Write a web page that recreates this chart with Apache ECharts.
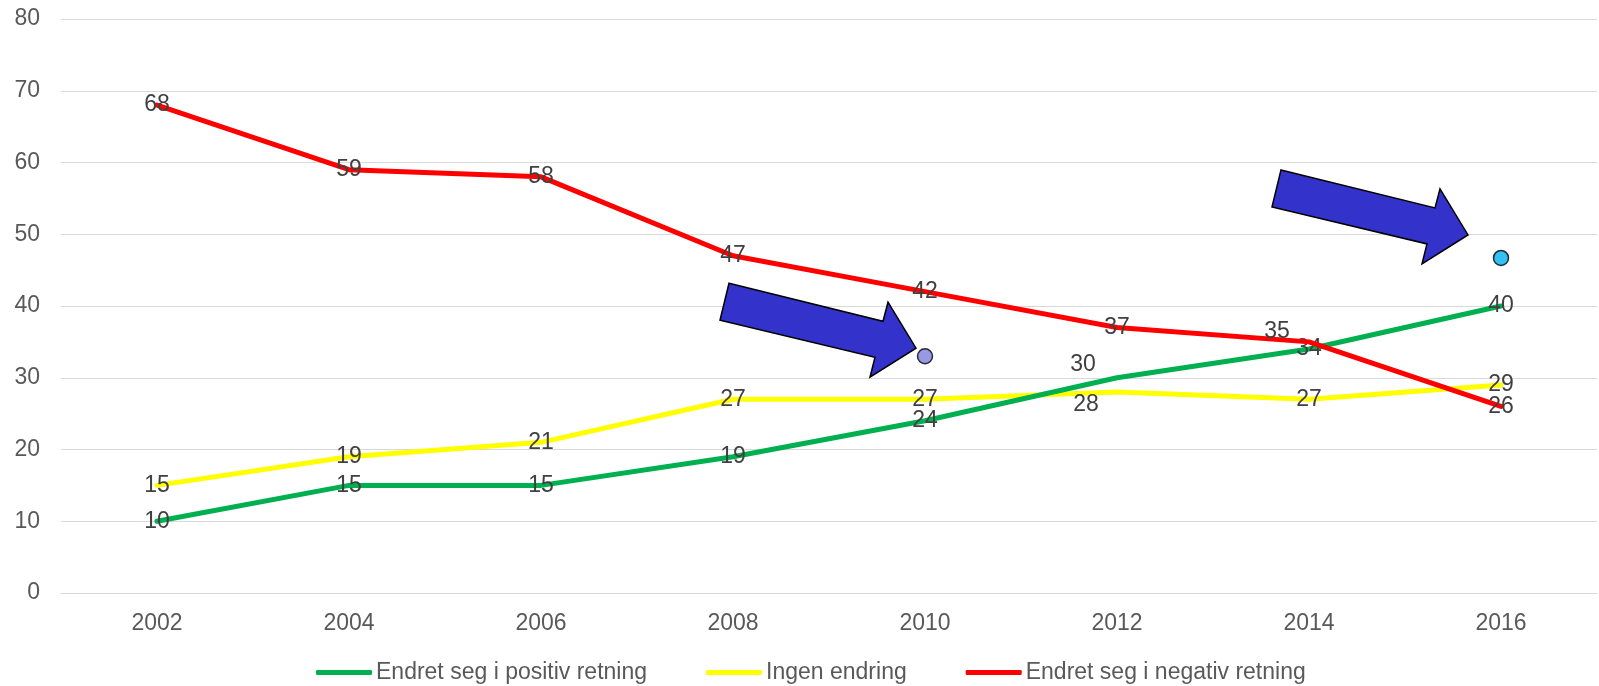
<!DOCTYPE html>
<html>
<head>
<meta charset="utf-8">
<title>Endring</title>
<script src="https://cdn.jsdelivr.net/npm/echarts@6/dist/echarts.min.js"></script>
<style>
  html, body { margin: 0; padding: 0; background: #fff; }
  #chart { width: 1599px; height: 686px; }
</style>
</head>
<body>
<div id="chart"></div>
<script>
var years = ['2002', '2004', '2006', '2008', '2010', '2012', '2014', '2016'];
var positiv = [10, 15, 15, 19, 24, 30, 34, 40];
var ingen = [15, 19, 21, 27, 27, 28, 27, 29];
var negativ = [68, 59, 58, 47, 42, 37, 35, 26];
var yTicks = [0, 80, 10]; // min, max, interval

// the two highlighted points the arrows point at
var markA = ['2010', 33];
var markB = ['2016', 46.7];

// labels that Excel moved off the point: [series, index, dx, dy]
var labelShift = [
  ['positiv', 5, -34, -13],
  ['ingen', 5, -31, 13],
  ['negativ', 6, -32, -10]
];

var font = '"Liberation Sans", Arial, sans-serif';

function withLabels(name, values) {
  return values.map(function (v, i) {
    var item = { value: v };
    labelShift.forEach(function (s) {
      if (s[0] === name && s[1] === i) {
        item.label = { offset: [s[2], s[3]] };
      }
    });
    return item;
  });
}

function lineSeries(name, key, values, color, z) {
  return {
    name: name,
    type: 'line',
    z: z,
    data: withLabels(key, values),
    symbol: 'circle',
    symbolSize: 1,
    itemStyle: { color: color },
    lineStyle: { color: color, width: 5, join: 'round', cap: 'round' },
    label: {
      show: true,
      position: 'inside',
      color: '#404040',
      fontSize: 23,
      fontFamily: font
    },
    emphasis: { disabled: true },
    animation: false
  };
}

var chart = echarts.init(document.getElementById('chart'));

chart.setOption({
  backgroundColor: '#fff',
  animation: false,
  grid: { left: 61, right: 2, top: 19, bottom: 93 },
  legend: {
    data: ['Endret seg i positiv retning', 'Ingen endring', 'Endret seg i negativ retning'],
    left: 311,
    top: 656,
    icon: 'roundRect',
    itemWidth: 56,
    itemHeight: 5,
    itemGap: 59,
    textStyle: { color: '#595959', fontSize: 23, fontFamily: font, padding: [0, 0, 0, -1] },
    selectedMode: false
  },
  xAxis: {
    type: 'category',
    data: years,
    boundaryGap: true,
    axisTick: { show: false },
    axisLine: { lineStyle: { color: '#D9D9D9', width: 1 } },
    axisLabel: { color: '#595959', fontSize: 23, fontFamily: font, margin: 19 }
  },
  yAxis: {
    type: 'value',
    min: yTicks[0],
    max: yTicks[1],
    interval: yTicks[2],
    axisLine: { show: false },
    axisTick: { show: false },
    splitLine: { lineStyle: { color: '#D9D9D9', width: 1 } },
    axisLabel: { color: '#595959', fontSize: 23, fontFamily: font, margin: 21 }
  },
  series: [
    lineSeries('Endret seg i positiv retning', 'positiv', positiv, '#00B050', 3),
    lineSeries('Ingen endring', 'ingen', ingen, '#FFFF00', 2),
    lineSeries('Endret seg i negativ retning', 'negativ', negativ, '#FF0000', 4),
    {
      name: 'markA',
      type: 'scatter',
      z: 6,
      data: [markA],
      symbolSize: 15,
      itemStyle: { color: '#8080DC', borderColor: '#000', borderWidth: 1.5 },
      emphasis: { disabled: true }
    },
    {
      name: 'markB',
      type: 'scatter',
      z: 6,
      data: [markB],
      symbolSize: 15,
      itemStyle: { color: '#00B0F0', borderColor: '#000', borderWidth: 1.5 },
      emphasis: { disabled: true }
    }
  ]
});

// block arrow, points relative to its tip
var arrowShape = [[-187, -65], [-33, -27], [-28, -46], [0, 0], [-46, 29], [-41, 9], [-196, -28]];

function arrowAt(seriesIndex, point, dx, dy) {
  var p = chart.convertToPixel({ seriesIndex: seriesIndex }, point);
  var tip = [p[0] + dx, p[1] + dy];
  return {
    type: 'polygon',
    z: 100,
    shape: {
      points: arrowShape.map(function (a) { return [tip[0] + a[0], tip[1] + a[1]]; })
    },
    style: { fill: '#3333CC', stroke: '#000', lineWidth: 1.5 }
  };
}

chart.setOption({
  graphic: [
    arrowAt(3, markA, -9, -8),
    arrowAt(4, markB, -33, -23)
  ]
});
</script>
</body>
</html>
